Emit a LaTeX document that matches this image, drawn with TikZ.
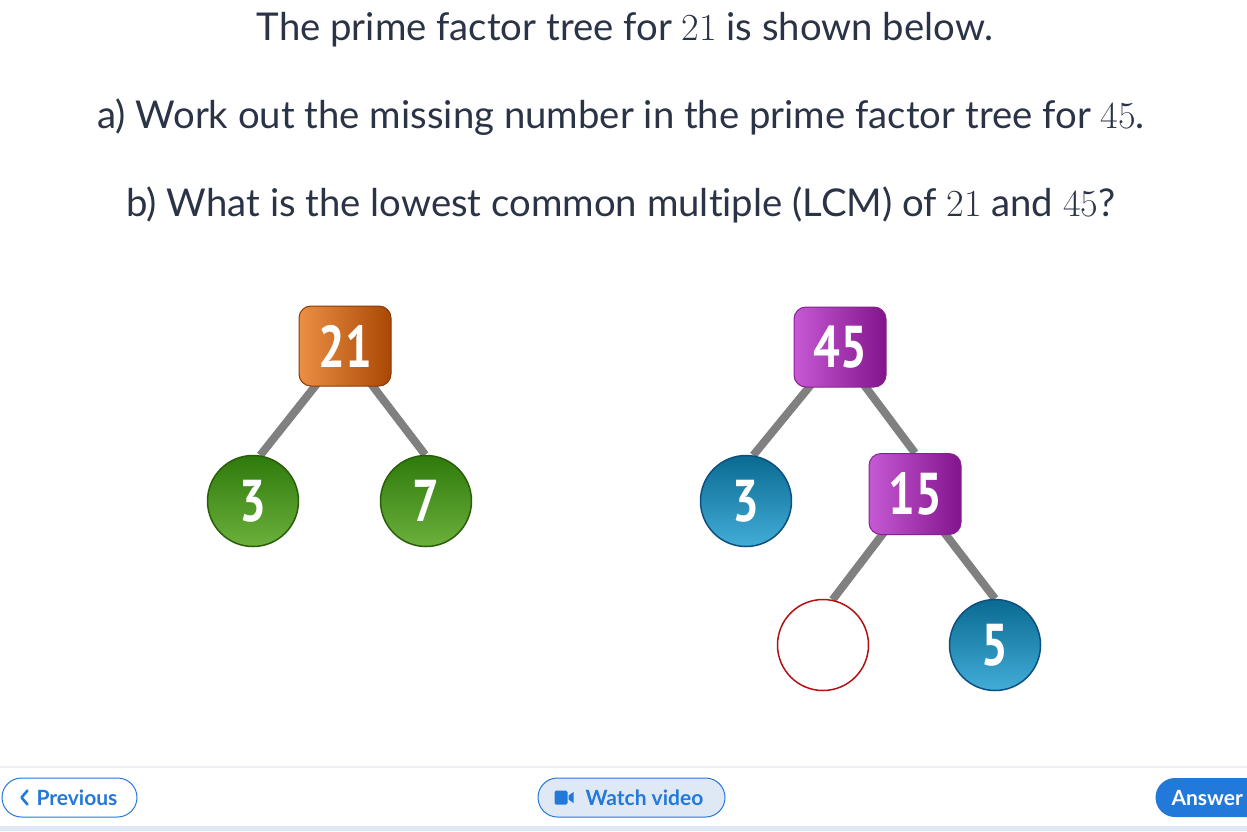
\documentclass[tikz,border=0pt]{standalone}
\usepackage{fontspec}
\setmainfont{Lato}[Ligatures={NoCommon}]
\newfontfamily\lmfont{Latin Modern Roman}
\newfontfamily\numfont{PT Sans}
\newfontfamily\btnfont{Lato}
\usetikzlibrary{calc,backgrounds}
\definecolor{txt}{HTML}{2B3447}
\definecolor{linegray}{HTML}{808080}
\definecolor{orL}{HTML}{EC8F45}
\definecolor{orR}{HTML}{A94804}
\definecolor{orB}{HTML}{8A3A08}
\definecolor{puL}{HTML}{C65AD4}
\definecolor{puR}{HTML}{82148C}
\definecolor{puB}{HTML}{8A2090}
\definecolor{grT}{HTML}{2E7A0C}
\definecolor{grB}{HTML}{6CB03C}
\definecolor{grD}{HTML}{2A5E08}
\definecolor{blT}{HTML}{0A6A91}
\definecolor{blB}{HTML}{42ADD8}
\definecolor{blD}{HTML}{0D4F80}
\definecolor{redB}{HTML}{B01212}
\definecolor{btnblue}{HTML}{2379D9}
\definecolor{btnlight}{HTML}{DFE9F6}
\definecolor{sepgray}{HTML}{EEEFF6}
\definecolor{band}{HTML}{E0E8F8}
\tikzset{
  x=1pt, y=-1pt,
  qtext/.style={anchor=base, text=txt, font=\fontsize{38.3}{44}\selectfont, inner sep=0pt},
  numtxt/.style={text=white, font=\numfont\bfseries\fontsize{59}{62}\selectfont},
  sqbox/.style={rounded corners=12pt, minimum width=92pt, minimum height=80pt, inner sep=0pt, line width=1pt, numtxt},
  orbox/.style={sqbox, draw=orB, left color=orL, right color=orR},
  pubox/.style={sqbox, draw=puB, left color=puL, right color=puR},
  circ/.style={circle, minimum size=91pt, inner sep=0pt, line width=1.5pt, numtxt},
  grcirc/.style={circ, draw=grD, top color=grT, bottom color=grB},
  blcirc/.style={circ, draw=blD, top color=blT, bottom color=blB},
  emptycirc/.style={circ, draw=redB, fill=white},
  branch/.style={draw=linegray, line width=8pt},
  pill/.style={rounded corners=19.5pt, minimum height=39pt, inner sep=0pt, line width=1pt, font=\btnfont\bfseries\fontsize{21}{24}\selectfont}
}
\newcommand{\nm}[1]{\scalebox{0.8}[1]{#1}}
\newcommand{\mn}[1]{{\lmfont #1}}
\begin{document}
\begin{tikzpicture}
\useasboundingbox (0,0) rectangle (1247,831);
% text
\node[qtext] (l1) at (625,40) {The prime factor tree for \mn{21} is shown below.};
\node[qtext] (l2) at (621,128) {a) Work out the missing number in the prime factor tree for \mn{45}.};
\node[qtext] (l3) at (621,216) {b) What is the lowest common multiple (LCM) of \mn{21} and \mn{45}?};
% tree 21
\node[orbox] (n21) at (345,346) {\nm{21}};
\node[grcirc] (g3) at (253,501) {\nm{3}};
\node[grcirc] (g7) at (426,501) {\nm{7}};
% tree 45
\node[pubox] (n45) at (840,347) {\nm{45}};
\node[blcirc] (b3) at (746,501) {\nm{3}};
\node[pubox, minimum height=81pt] (n15) at (915,494) {\nm{15}};
\node[emptycirc] (e) at (823,645) {};
\node[blcirc] (b5) at (995,645) {\nm{5}};
% bottom bar
\draw[sepgray, line width=1.5pt] (0,767) -- (1247,767);
\fill[band] (0,826) rectangle (1247,831);
\node[pill, draw=btnblue, fill=white, minimum width=135pt, text=btnblue] (prev) at (69.5,797.5) {\hspace*{15pt}Previous};
\draw[btnblue, line width=2.6pt, line cap=round, line join=round] ($(prev.west)+(26,-7)$) -- ($(prev.west)+(20,0)$) -- ($(prev.west)+(26,7)$);
\node[pill, draw=btnblue, fill=btnlight, minimum width=187pt, text=btnblue] (watch) at (631.5,797.5) {\hspace*{26pt}Watch video};
\fill[btnblue, rounded corners=1.5pt] ($(watch.west)+(17,-7)$) rectangle ($(watch.west)+(30,7)$);
\fill[btnblue] ($(watch.west)+(31,-2)$) -- ($(watch.west)+(36,-5.5)$) -- ($(watch.west)+(36,5.5)$) -- ($(watch.west)+(31,2)$) -- cycle;
\node[pill, fill=btnblue, minimum width=130pt, text=white, anchor=west, text width=130pt, align=left] (ans) at (1155,797.5) {\hspace*{16pt}Answer};
% connectors
\begin{scope}[on background layer]
\fill[white] (0,0) rectangle (1247,831);
\draw[branch] ($(n21.south)+(-27,-4)$) -- (g3.81);
\draw[branch] ($(n21.south)+(25,-4)$) -- (g7.91);
\draw[branch] ($(n45.south)+(-28,-4)$) -- (b3.81);
\draw[branch] ($(n45.south)+(23,-4)$) -- (n15.north);
\draw[branch] ($(n15.south)+(-30,-4)$) -- (e.78);
\draw[branch] ($(n15.south)+(28,-4)$) -- (b5.90);
\end{scope}
\end{tikzpicture}
\end{document}
